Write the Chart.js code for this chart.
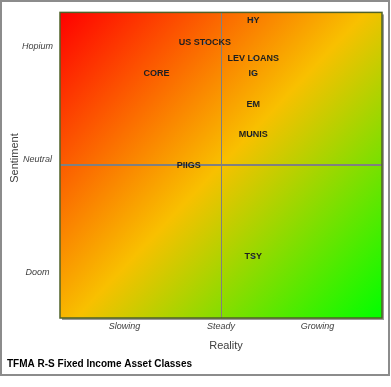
<!DOCTYPE html>
<html><head><meta charset="utf-8">
<script src="https://cdn.jsdelivr.net/npm/chart.js@4"></script>
<style>html,body{margin:0;padding:0;background:#fff}#wrap{width:391px;height:387px}</style>
</head><body><div id="wrap"><canvas id="c" width="391" height="387"></canvas></div>
<script>
const labels = ['HY','US STOCKS','LEV LOANS','IG','CORE','EM','MUNIS','PIIGS','TSY'];
const realityValues = [60,45,60,60,30,60,60,40,60];
const sentimentValues = [97.5,90,85,80,80,70,60,50,20];
const xTickValues = [20,50,80];
const xTickLabels = ['Slowing','Steady','Growing'];
const yTickValues = [15,52,89];
const yTickLabels = ['Doom','Neutral','Hopium'];
const crossX = 50, crossY = 50;
const chartTitle = 'TFMA R-S Fixed Income Asset Classes';
const xTitle = 'Reality', yTitle = 'Sentiment';

const points = labels.map((l,i)=>({x:realityValues[i], y:sentimentValues[i], label:l}));

const decor = {
  id:'decor',
  beforeDraw(chart){
    const ctx = chart.ctx, a = chart.chartArea;
    ctx.save();
    ctx.fillStyle = '#fff';
    ctx.fillRect(0,0,chart.width,chart.height);
    ctx.strokeStyle = '#8c8c8c'; ctx.lineWidth = 2;
    ctx.strokeRect(1,1,388,374);
    ctx.fillStyle = '#9a9a9a';
    ctx.fillRect(a.right, a.top+2, 2, a.bottom-a.top);
    ctx.fillRect(a.left+2, a.bottom, a.right-a.left, 2);
    const g = ctx.createLinearGradient(a.left, a.top, a.right, a.bottom);
    g.addColorStop(0, '#ff0000');
    g.addColorStop(0.5, '#f8c000');
    g.addColorStop(1, '#00ff00');
    ctx.fillStyle = g;
    ctx.fillRect(a.left, a.top, a.right-a.left, a.bottom-a.top);
    ctx.restore();
  },
  beforeDatasetsDraw(chart){
    const ctx = chart.ctx, a = chart.chartArea;
    const px = Math.round(chart.scales.x.getPixelForValue(crossX));
    const py = Math.round(chart.scales.y.getPixelForValue(crossY));
    ctx.save();
    ctx.strokeStyle = '#808080';
    ctx.lineWidth = 1;
    ctx.beginPath(); ctx.moveTo(px+0.5, a.top); ctx.lineTo(px+0.5, a.bottom); ctx.stroke();
    ctx.lineWidth = 2;
    ctx.beginPath(); ctx.moveTo(a.left, py); ctx.lineTo(a.right, py); ctx.stroke();
    ctx.strokeStyle = '#4f6228'; ctx.lineWidth = 1.5;
    ctx.strokeRect(a.left, a.top, a.right-a.left, a.bottom-a.top);
    ctx.restore();
  },
  afterDatasetsDraw(chart){
    const ctx = chart.ctx;
    const meta = chart.getDatasetMeta(0);
    ctx.save();
    ctx.font = 'bold 9px Arial, "Liberation Sans"';
    ctx.fillStyle = '#1e1e1e';
    ctx.textAlign = 'center'; ctx.textBaseline = 'middle';
    meta.data.forEach((el,i)=>{ ctx.fillText(labels[i], el.x, el.y); });
    ctx.restore();
  },
  afterDraw(chart){
    const ctx = chart.ctx;
    ctx.save();
    ctx.fillStyle = '#000';
    ctx.font = 'bold 10px Arial, "Liberation Sans"';
    ctx.textAlign = 'left'; ctx.textBaseline = 'middle';
    ctx.fillText(chartTitle, 7, 364);
    ctx.fillStyle = '#404040';
    ctx.font = '11px Arial, "Liberation Sans"';
    ctx.textAlign = 'center';
    ctx.fillText(xTitle, 226, 346);
    ctx.translate(15, 158); ctx.rotate(-Math.PI/2);
    ctx.fillText(yTitle, 0, 0);
    ctx.restore();
  }
};

new Chart(document.getElementById('c'), {
  type:'scatter',
  data:{datasets:[{data:points, pointRadius:1, pointBackgroundColor:'#4f81bd', pointBorderWidth:0}]},
  options:{
    responsive:false, animation:false, devicePixelRatio:1,
    layout:{padding:{left:0,top:10,right:9,bottom:0}},
    plugins:{legend:{display:false}, tooltip:{enabled:false}},
    scales:{
      x:{type:'linear', min:0, max:100,
        afterBuildTicks(s){ s.ticks = xTickValues.map(v=>({value:v})); },
        afterFit(s){ s.height = 69; },
        ticks:{callback:(v)=>xTickLabels[xTickValues.indexOf(v)], autoSkip:false, maxRotation:0,
          font:{family:'Arial, "Liberation Sans"', size:9, style:'italic'}, color:'#404040', padding:3},
        grid:{display:false, drawTicks:false}, border:{display:false}},
      y:{type:'linear', min:0, max:100,
        afterBuildTicks(s){ s.ticks = yTickValues.map(v=>({value:v})); },
        afterFit(s){ s.width = 60; },
        ticks:{callback:(v)=>yTickLabels[yTickValues.indexOf(v)], autoSkip:false, crossAlign:'center',
          font:{family:'Arial, "Liberation Sans"', size:9, style:'italic'}, color:'#404040', padding:7},
        grid:{display:false, drawTicks:false}, border:{display:false}}
    }
  },
  plugins:[decor]
});
</script></body></html>
